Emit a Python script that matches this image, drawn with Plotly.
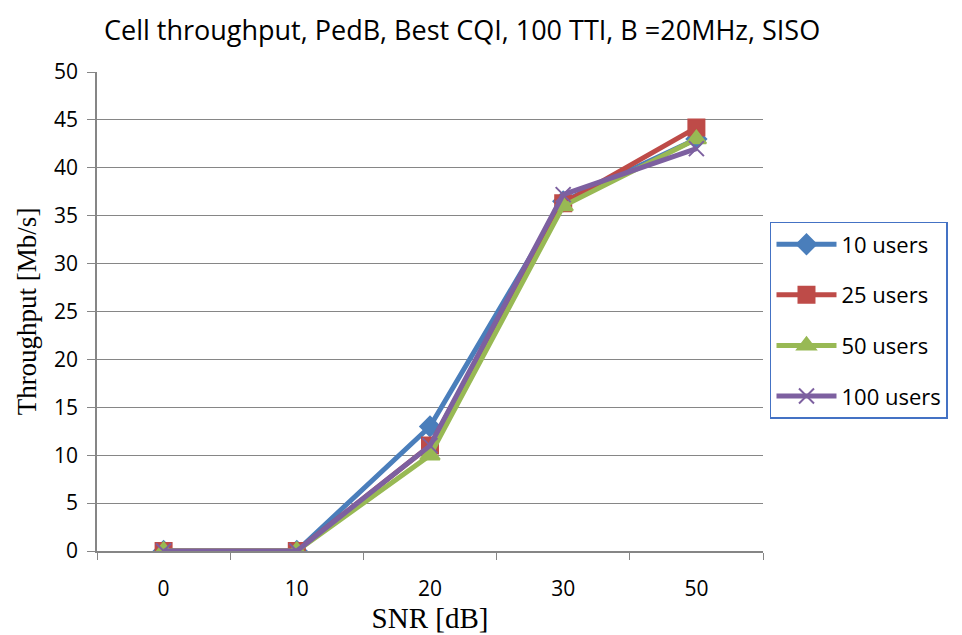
import plotly.graph_objects as go

snr_labels = ["0", "10", "20", "30", "50"]
users_10 = [0, 0, 13, 36.5, 43]
users_25 = [0, 0, 11, 36.3, 44.2]
users_50 = [0, 0, 10, 36, 43]
users_100 = [0, 0, 11, 37.2, 42]

series = [
    ("10 users", users_10, "#4A7EBB", "diamond", 15),
    ("25 users", users_25, "#BE4B48", "square", 16),
    ("50 users", users_50, "#98B954", "triangle-up", 17),
    ("100 users", users_100, "#7D60A0", "x-thin-open", 15),
]

fig = go.Figure()
for i, (name, vals, col, sym, sz) in enumerate(series):
    fig.add_trace(go.Scatter(
        x=snr_labels, y=vals, name=name, mode="lines+markers",
        line=dict(color=col, width=5),
        marker=dict(symbol=sym, size=sz, color=col, line=dict(color=col, width=2)),
        legendgroup=str(i),
    ))

fig.update_layout(
    width=962, height=635,
    paper_bgcolor="white", plot_bgcolor="white",
    margin=dict(l=89, r=207, t=64, b=92),
    title=dict(text="Cell throughput, PedB, Best CQI, 100 TTI, B =20MHz, SISO",
               x=0.472, xanchor="center", xref="container", y=0.965, yanchor="middle",
               font=dict(family="Open Sans", size=27, color="black")),
    xaxis=dict(type="category", range=[-0.5, 4.5],
               title=dict(text="SNR [dB]", font=dict(family="Liberation Serif", size=29, color="black"), standoff=0),
               showgrid=False, showline=True, linecolor="#868686", linewidth=1.5,
               ticks="outside", tickson="boundaries", ticklen=7, tickcolor="#868686",
               ticklabelstandoff=18,
               tickfont=dict(family="Open Sans", size=21, color="black")),
    yaxis=dict(range=[0, 50], dtick=5, title=dict(text="Throughput [Mb/s]", font=dict(family="Liberation Serif", size=27, color="black"), standoff=10),
               showgrid=True, gridcolor="#868686", gridwidth=1,
               showline=True, linecolor="#868686", linewidth=1.5,
               ticks="outside", ticklen=8, tickcolor="#868686",
               ticklabelstandoff=5,
               tickfont=dict(family="Open Sans", size=21, color="black"), zeroline=False),
    legend=dict(x=1.0105, xanchor="left", y=0.687, yanchor="top",
                bordercolor="#4472C4", borderwidth=1.5, bgcolor="white",
                font=dict(family="Open Sans", size=22, color="black"),
                traceorder="grouped", tracegroupgap=19, itemwidth=60),
    showlegend=True,
)

fig.write_html("out.html")
